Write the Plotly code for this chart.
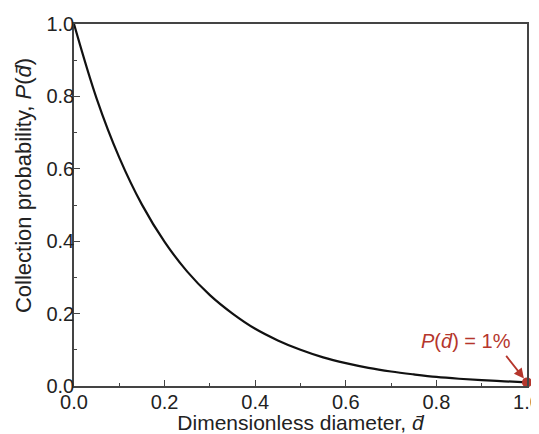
import plotly.graph_objects as go

d_vals = [0.0, 0.05, 0.1, 0.15, 0.2, 0.25, 0.3, 0.35, 0.4, 0.45, 0.5,
          0.55, 0.6, 0.65, 0.7, 0.75, 0.8, 0.85, 0.9, 0.95, 1.0]
p_vals = [1.000, 0.794, 0.631, 0.501, 0.398, 0.316, 0.251, 0.200, 0.158, 0.126, 0.100,
          0.079, 0.063, 0.050, 0.040, 0.032, 0.025, 0.020, 0.016, 0.013, 0.010]
marker_x = [1.0]
marker_y = [0.01]
tick_vals = [0.0, 0.2, 0.4, 0.6, 0.8, 1.0]
tick_text = ["0.0", "0.2", "0.4", "0.6", "0.8", "1.0"]

red = "#b5362c"
axcol = "#444444"
txtcol = "#222222"
font = "Liberation Sans, Arial, sans-serif"

fig = go.Figure()
fig.add_trace(go.Scatter(x=d_vals, y=p_vals, mode="lines",
                         line=dict(color="#111111", width=2.2, shape="spline"),
                         showlegend=False, hoverinfo="skip"))
fig.add_trace(go.Scatter(x=marker_x, y=marker_y, mode="markers",
                         marker=dict(color=red, size=10),
                         showlegend=False, cliponaxis=False))

axis_common = dict(
    range=[0, 1], tickvals=tick_vals, ticktext=tick_text,
    ticks="inside", ticklen=6, tickwidth=1.2, tickcolor=axcol,
    minor=dict(ticks="inside", ticklen=3, tickwidth=1.2, tickcolor=axcol, dtick=0.1),
    showline=True, linecolor=axcol, linewidth=1.5, mirror=True,
    showgrid=False, zeroline=False, automargin=False,
    ticklabeloverflow="allow",
    tickfont=dict(family=font, size=20, color=txtcol),
)

fig.update_xaxes(**axis_common, ticklabelstandoff=-3,
                 title=dict(text="Dimensionless diameter, <i>d̄</i>", standoff=0,
                            font=dict(family=font, size=21, color=txtcol)))
fig.update_yaxes(**axis_common, ticklabelstandoff=-6)

# y-axis title (placed as a rotated annotation, slightly above centre as in the reference)
fig.add_annotation(xref="paper", yref="paper", x=-0.1126, y=0.555,
                   xanchor="center", yanchor="middle", textangle=-90,
                   text="Collection probability, <i>P</i>(<i>d̄</i>)", showarrow=False,
                   font=dict(family=font, size=22, color=txtcol))

# arrow toward the end point
fig.add_annotation(x=marker_x[0], y=marker_y[0], xref="x", yref="y",
                   text="", showarrow=True, ax=-22, ay=-28,
                   arrowhead=2, arrowsize=1.1, arrowwidth=1.8,
                   arrowcolor=red, standoff=5)
# label
fig.add_annotation(x=marker_x[0], y=marker_y[0], xref="x", yref="y",
                   text="<i>P</i>(<i>d̄</i>) = 1%", showarrow=False,
                   xshift=-61, yshift=41,
                   font=dict(family=font, size=20, color=red))

# the page body adds an 8 px margin, so the figure is sized to fit the window
fig.update_layout(width=531, height=426,
                  margin=dict(l=66, r=12, t=16, b=48),
                  paper_bgcolor="white", plot_bgcolor="white")

fig.write_html("out.html")
